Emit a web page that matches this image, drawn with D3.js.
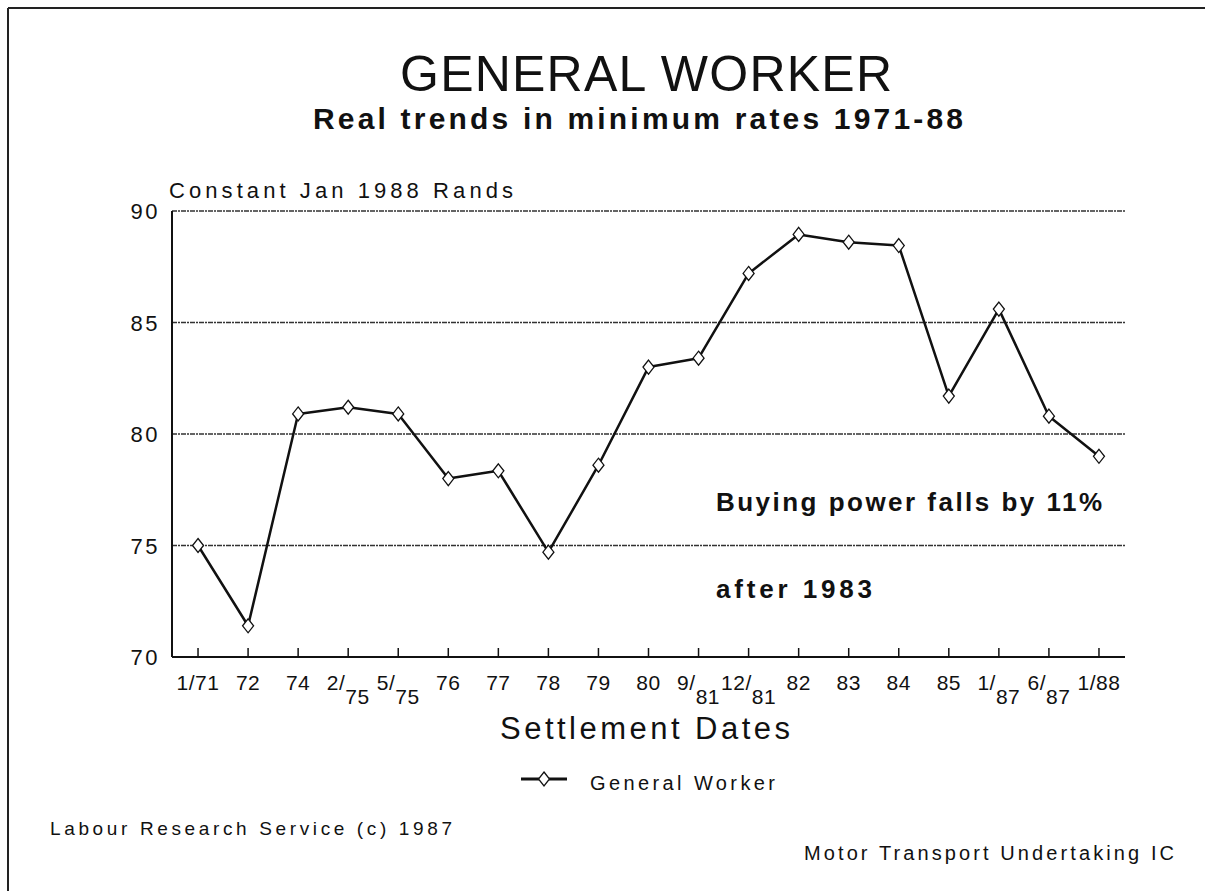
<!DOCTYPE html>
<html>
<head>
<meta charset="utf-8">
<script src="https://cdn.jsdelivr.net/npm/d3@7"></script>
<style>
  html, body { margin: 0; padding: 0; background: #fff; }
  svg { display: block; }
  text { font-family: "Liberation Sans", Arial, sans-serif; fill: #111; }
</style>
</head>
<body>
<svg id="chart" width="1205" height="891"></svg>
<script>
// ---- data ----
const categories = ["1/71","72","74","2/75","5/75","76","77","78","79","80","9/81","12/81","82","83","84","85","1/87","6/87","1/88"];
const values = [75.0, 71.4, 80.9, 81.2, 80.9, 78.0, 78.35, 74.7, 78.6, 83.0, 83.4, 87.2, 88.95, 88.6, 88.45, 81.7, 85.6, 80.8, 79.0];
const stackedTicks = ["2/75","5/75","9/81","12/81","1/87","6/87"];
const yTicks = [70, 75, 80, 85, 90];
const gridTicks = [75, 80, 85, 90];
const seriesName = "General Worker";

(function () {
const svg = d3.select("#chart");

// frame (top and left edges visible)
svg.append("line").attr("x1", 8).attr("y1", 8).attr("x2", 1205).attr("y2", 8)
  .attr("stroke", "#222").attr("stroke-width", 2);
svg.append("line").attr("x1", 8).attr("y1", 8).attr("x2", 8).attr("y2", 891)
  .attr("stroke", "#222").attr("stroke-width", 2);

const pLeft = 172, pRight = 1125, pTop = 211, pBottom = 657;

const x = d3.scalePoint().domain(categories).range([pLeft, pRight]).padding(0.52);
const y = d3.scaleLinear().domain([70, 90]).range([pBottom, pTop]);

// gridlines
svg.append("g").selectAll("line").data(gridTicks).join("line")
  .attr("x1", pLeft).attr("x2", pRight)
  .attr("y1", d => y(d)).attr("y2", d => y(d))
  .attr("stroke", "#333").attr("stroke-width", 1.3)
  .attr("stroke-dasharray", "5,1,2,1");

// axes
svg.append("line").attr("x1", pLeft).attr("x2", pLeft).attr("y1", pTop).attr("y2", pBottom)
  .attr("stroke", "#111").attr("stroke-width", 2);
svg.append("line").attr("x1", pLeft).attr("x2", pRight).attr("y1", pBottom).attr("y2", pBottom)
  .attr("stroke", "#111").attr("stroke-width", 2);

// x ticks (inward)
svg.append("g").selectAll("line").data(categories).join("line")
  .attr("x1", d => x(d)).attr("x2", d => x(d))
  .attr("y1", pBottom).attr("y2", pBottom - 9)
  .attr("stroke", "#111").attr("stroke-width", 1.5);

// y tick labels
svg.append("g").selectAll("text").data(yTicks).join("text")
  .attr("x", 160).attr("y", d => y(d) + 8)
  .attr("text-anchor", "end")
  .attr("font-size", 22).attr("letter-spacing", 2.5)
  .text(d => d);

// x tick labels
const xl = svg.append("g");
categories.forEach(c => {
  const t = xl.append("text").attr("x", x(c)).attr("y", 690)
    .attr("text-anchor", "middle").attr("font-size", 21).attr("letter-spacing", 0.5);
  if (stackedTicks.includes(c)) {
    const [a, b] = c.split("/");
    t.append("tspan").text(a + "/");
    t.append("tspan").attr("dy", 14).text(b);
  } else {
    t.text(c);
  }
});

// line
const line = d3.line().x((d, i) => x(categories[i])).y(d => y(d));
svg.append("path").datum(values)
  .attr("d", line).attr("fill", "none")
  .attr("stroke", "#111").attr("stroke-width", 2.5)
  .attr("stroke-linejoin", "round");

// diamond markers
const diamond = (cx, cy) => `M${cx},${cy - 7}L${cx + 5.5},${cy}L${cx},${cy + 7}L${cx - 5.5},${cy}Z`;
svg.append("g").selectAll("path").data(values).join("path")
  .attr("d", (d, i) => diamond(x(categories[i]), y(d)))
  .attr("fill", "#fff").attr("stroke", "#111").attr("stroke-width", 1.3);

// helper: text stretched to the reference width
function txt(xp, yp, s, size, len, opts = {}) {
  const t = svg.append("text").attr("x", xp).attr("y", yp)
    .attr("font-size", size)
    .attr("textLength", len).attr("lengthAdjust", "spacing")
    .text(s);
  if (opts.weight) t.attr("font-weight", opts.weight);
  if (opts.fill) t.attr("fill", opts.fill);
  return t;
}

// titles
txt(400, 91, "GENERAL WORKER", 50, 492);
txt(313, 129, "Real trends in minimum rates 1971-88", 30, 650, { weight: "bold" });
txt(169, 198, "Constant Jan 1988 Rands", 22, 344);
txt(500, 739, "Settlement Dates", 31, 290, { fill: "#222" });

// annotation
txt(716, 511, "Buying power falls by 11%", 26, 386, { weight: "bold" });
txt(716, 598, "after 1983", 26, 156, { weight: "bold" });

// legend
svg.append("line").attr("x1", 521).attr("x2", 567).attr("y1", 779).attr("y2", 779)
  .attr("stroke", "#111").attr("stroke-width", 2.8);
svg.append("path").attr("d", diamond(544, 779)).attr("fill", "#fff").attr("stroke", "#111").attr("stroke-width", 1.3);
txt(590, 790, seriesName, 20, 185);

// footers
txt(50, 835, "Labour Research Service (c) 1987", 19, 402);
txt(804, 860, "Motor Transport Undertaking IC", 20, 370);
})();
</script>
</body>
</html>
